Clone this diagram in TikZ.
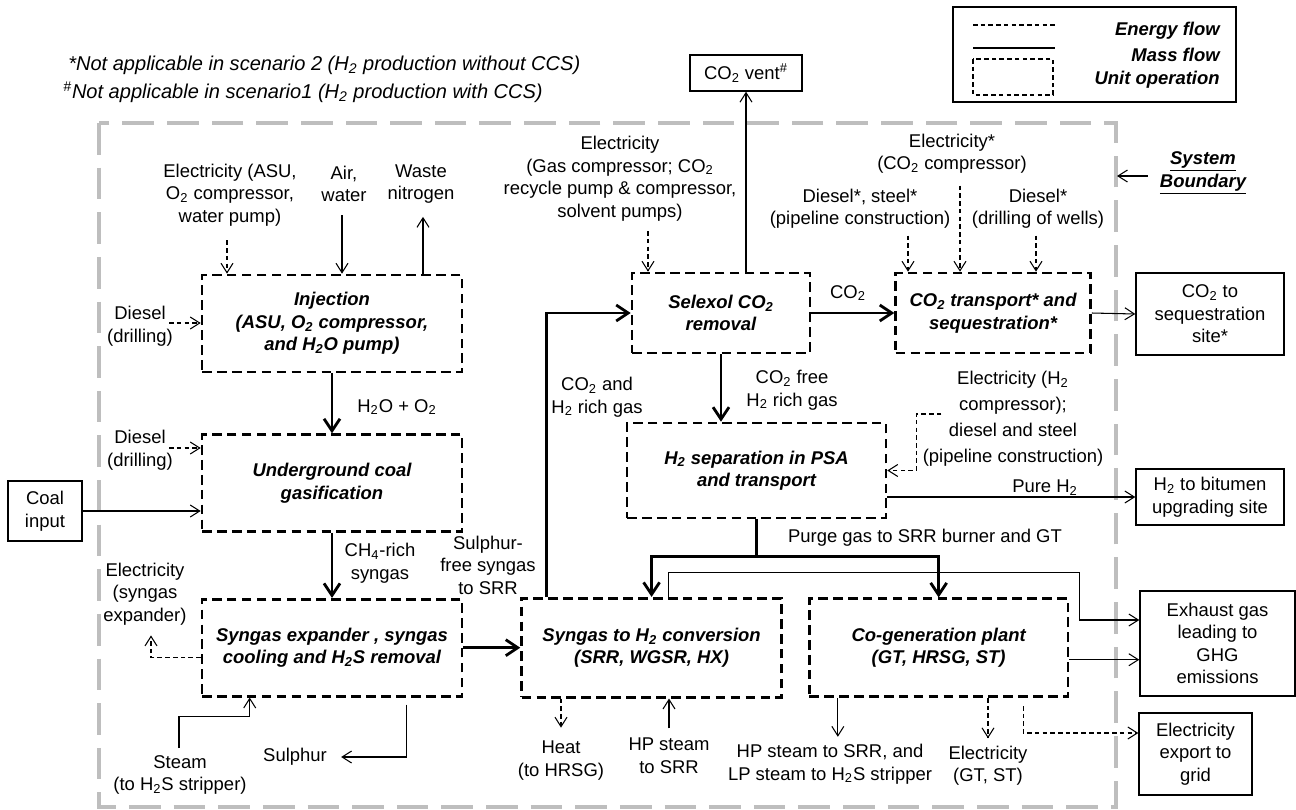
\documentclass[tikz,border=0pt]{standalone}
\usepackage{fontspec}
\setmainfont{Liberation Sans}
\usepackage{tikz}
\usetikzlibrary{arrows.meta,positioning,calc}
\definecolor{bndgray}{RGB}{190,190,190}
\newcommand{\mysize}{\fontsize{10.5}{12.8}\selectfont}
\newcommand{\notesize}{\fontsize{11.4}{13.5}\selectfont}
\newcommand{\htwo}{H\textsubscript{2}}
\newcommand{\cotwo}{CO\textsubscript{2}}

\begin{document}
\begin{tikzpicture}[
  x=0.02cm, y=-0.02cm,
  font=\mysize,
  unitop/.style={draw, line width=1.5pt, dash pattern=on 5.5pt off 3pt, align=center, font=\mysize\bfseries\itshape, minimum width=5.2cm, minimum height=1.94cm, inner sep=1pt},
  outbox/.style={draw, line width=0.8pt, align=center, inner sep=1pt},
  lbl/.style={align=center, inner sep=0pt},
  massflow/.style={-{Straight Barb[length=1.9mm,width=2.4mm]}, line width=0.6pt},
  mainflow/.style={-{Straight Barb[length=2.4mm,width=3.2mm]}, line width=1.6pt},
  energyflow/.style={-{Straight Barb[length=1.9mm,width=2.4mm]}, line width=0.6pt, dash pattern=on 2.6pt off 1.8pt},
  boundary/.style={draw=bndgray, line width=2.3pt, dash pattern=on 18pt off 7.4pt}
]
\useasboundingbox (0,0) rectangle (1296,809);

\draw[boundary] (99,123) coordinate (bnw) rectangle (1116,807) coordinate (bse);

\node[lbl, anchor=west, font=\notesize\itshape] (notea) at (68,65) {*Not applicable in scenario 2 (\htwo{} production without CCS)};
\node[lbl, anchor=west, font=\notesize\itshape] (noteb) at (63,92) {\textsuperscript{\#}Not applicable in scenario1 (\htwo{} production with CCS)};

\node[outbox, minimum width=5.66cm, minimum height=1.9cm] (legend) at (1094.5,54.5) {};
\draw[line width=0.6pt, dash pattern=on 2.6pt off 1.8pt] (973,25) -- (1055,25);
\draw[line width=0.6pt] (973,48) -- (1055,48);
\draw[line width=0.6pt, dash pattern=on 2.6pt off 1.8pt] (973,59) rectangle (1053,95);
\node[lbl, anchor=east, font=\mysize\bfseries\itshape] (lgenergy) at (1220,31) {Energy flow};
\node[lbl, anchor=east, font=\mysize\bfseries\itshape] (lgmass) at (1220,55) {Mass flow};
\node[lbl, anchor=east, font=\mysize\bfseries\itshape] (lgunit) at (1220,80) {Unit operation};

\node[unitop] (inj) at (332,323.5) {Injection\\(ASU, O\textsubscript{2} compressor,\\and \htwo{}O pump)};
\node[unitop, below=1.2cm of inj] (ucg) {Underground coal\\gasification};
\node[unitop, below=1.3cm of ucg] (sx) {Syngas expander , syngas\\cooling and \htwo{}S removal};
\node[unitop, minimum height=1.98cm, right=1.14cm of sx] (conv) {Syngas to \htwo{} conversion\\(SRR, WGSR, HX)};
\node[unitop, minimum width=5.18cm, minimum height=1.96cm, right=0.5cm of conv] (cogen) {Co-generation plant\\(GT, HRSG, ST)};
\node[unitop, minimum width=3.56cm, minimum height=1.6cm] (sel) at (721,313) {Selexol \cotwo\\removal};
\node[unitop, minimum width=3.9cm, minimum height=1.6cm, right=1.66cm of sel] (co2t) {\cotwo{} transport* and\\sequestration*};
\node[unitop, minimum width=5.18cm, minimum height=1.9cm] (psa) at (756.5,470.5) {\htwo{} separation in PSA\\and transport};

\node[outbox, minimum width=1.48cm, minimum height=1.2cm] (coal) at (45,511) {Coal\\input};
\node[outbox, minimum width=2.24cm, minimum height=0.72cm] (vent) at (746,73) {\cotwo{} vent\textsuperscript{\#}};
\node[outbox, minimum width=2.96cm, minimum height=1.64cm] (seqsite) at (1210,314) {\cotwo{} to\\sequestration\\site*};
\node[outbox, minimum width=2.96cm, minimum height=1.12cm] (bitumen) at (1210,497) {\htwo{} to bitumen\\upgrading site};
\node[outbox, minimum width=3.1cm, minimum height=2.1cm] (exhaust) at (1217.5,643.5) {Exhaust gas\\leading to\\GHG\\emissions};
\node[outbox, minimum width=2.26cm, minimum height=1.64cm] (export) at (1195.5,754) {Electricity\\export to\\grid};

\node[lbl] (elasu) at (230,195) {Electricity (ASU,\\O\textsubscript{2} compressor,\\water pump)};
\node[lbl] (air) at (344,184) {Air,\\water};
\node[lbl] (waste) at (421,184) {Waste\\nitrogen};
\node[lbl] (diesela) at (140,326) {Diesel\\(drilling)};
\node[lbl] (dieselb) at (140,450) {Diesel\\(drilling)};
\node[lbl] (h2oo2) at (397,407) {\htwo{}O + O\textsubscript{2}};
\node[lbl] (ch4) at (380,563) {CH\textsubscript{4}-rich\\syngas};
\node[lbl] (elexp) at (145,594) {Electricity\\(syngas\\expander)};
\node[lbl] (steam) at (180,775) {Steam\\(to \htwo{}S stripper)};
\node[lbl] (sulphur) at (295,757) {Sulphur};
\node[lbl] (sfree) at (488,565) {Sulphur-\\free syngas\\to SRR};
\node[lbl] (co2rich) at (597,397) {\cotwo{} and\\\htwo{} rich gas};
\node[lbl] (elsel) at (620,178.5) {Electricity\\(Gas compressor; \cotwo\\recycle pump \& compressor,\\solvent pumps)};
\node[lbl] (co2lbl) at (848,293) {\cotwo};
\node[lbl] (co2free) at (792,390) {\cotwo{} free\\\htwo{} rich gas};
\node[lbl] (elco2) at (952,153.5) {Electricity*\\(\cotwo{} compressor)};
\node[lbl] (dsteel) at (860,208.5) {Diesel*, steel*\\(pipeline construction)};
\node[lbl] (dwells) at (1038,208.5) {Diesel*\\(drilling of wells)};
\node[lbl] (elh2) at (1013,418.5) {Electricity (\htwo\\[2pt]compressor);\\[2pt]diesel and steel\\[2pt](pipeline construction)};
\node[lbl] (pureh2) at (1045,488) {Pure \htwo};
\node[lbl] (purge) at (925,538) {Purge gas to SRR burner and GT};
\node[lbl] (heat) at (561,760.5) {Heat\\(to HRSG)};
\node[lbl] (hpsteam) at (669,755.5) {HP steam\\to SRR};
\node[lbl] (hplp) at (830,764) {HP steam to SRR, and\\LP steam to \htwo{}S stripper};
\node[lbl] (elgt) at (988,765.5) {Electricity\\(GT, ST)};
\node[lbl, font=\mysize\bfseries\itshape] (sysb) at (1203,173) {\underline{System}\\\underline{Boundary}};

\draw[energyflow] ($(elasu.south)+(-3,14)$) -- ($(elasu.south |- inj.north)+(-3,0)$);
\draw[massflow] ($(air.south)+(-2,13)$) -- ($(air.south |- inj.north)+(-2,0)$);
\draw[massflow] ($(inj.north -| waste.south)+(2,0)$) -- ($(waste.south)+(2,13)$);
\draw[energyflow] ($(diesela.east)+(-4,-3)$) -- ($(diesela.east -| inj.west)+(0,-3)$);
\draw[mainflow] (inj) -- (ucg);
\draw[energyflow] ($(dieselb.east)+(-4,-2)$) -- ($(dieselb.east -| ucg.west)+(0,-2)$);
\draw[massflow] (coal.east) -- (coal.east -| ucg.west);
\draw[mainflow] (ucg) -- (sx);
\draw[energyflow] ($(sx.west)+(0,10)$) -| ($(elexp.south)+(6,10)$);
\draw[massflow] ($(steam.north)+(-1,-7)$) -- ++(0,-32) -| ($(sx.south west)+(49,0)$);
\draw[massflow] ($(sx.south west)+(206,7)$) |- ($(sulphur.east)+(14,0)$);
\draw[mainflow] (sx) -- (conv);
\draw[mainflow] ($(conv.north west)+(26,0)$) |- (sel.west);
\draw[mainflow] (sel.south) -- (sel.south |- psa.north);
\draw[massflow] (vent.south |- sel.north) -- (vent.south);
\draw[energyflow] ($(elsel.south)+(28,10)$) -- ($(elsel.south |- sel.north)+(28,0)$);
\draw[mainflow] (sel.east) -- (co2t.west);
\draw[energyflow] ($(elco2.south)+(8,12)$) -- ($(elco2.south |- co2t.north)+(8,0)$);
\draw[energyflow] ($(dsteel.south)+(48,7)$) -- ($(dsteel.south |- co2t.north)+(48,0)$);
\draw[energyflow] ($(dwells.south)+(-2,7)$) -- ($(dwells.south |- co2t.north)+(-2,0)$);
\draw[massflow] (co2t.east) -- (seqsite.west);
\draw[massflow] (psa.east |- bitumen.west) -- (bitumen.west);
\draw[energyflow] ($(elh2.west)+(19,-4.5)$) -| ($(psa.east)+(29,0)$) -- (psa.east);
\draw[mainflow, -] (psa.south) -- ++(0,37) coordinate (purgej);
\draw[mainflow] (purgej) -| (conv.north);
\draw[mainflow] (purgej) -| (cogen.north);
\draw[massflow] ($(conv.north)+(17,0)$) -- ++(0,-24) -| ($(exhaust.west)+(-60,-23.5)$) -- ($(exhaust.west)+(0,-23.5)$);
\draw[massflow] ($(cogen.east)+(0,12)$) -- ($(cogen.east -| exhaust.west)+(0,12)$);
\draw[energyflow] (heat.north |- conv.south) -- ($(heat.north)+(0,-13)$);
\draw[massflow] ($(hpsteam.north)+(0,-9)$) -- (hpsteam.north |- conv.south);
\draw[massflow] ($(cogen.south west)+(30,0)$) coordinate (hpx) -- ($(hpx |- hplp.north)+(0,-7)$);
\draw[energyflow] (elgt.north |- cogen.south) -- ($(elgt.north)+(0,-7)$);
\draw[energyflow] ($(cogen.south)+(84.5,8)$) |- ($(export.west)+(0,-21)$);
\draw[massflow] ($(sysb.west)+(-12,3)$) -- ($(sysb.west -| bse)+(1,3)$);
\end{tikzpicture}
\end{document}
